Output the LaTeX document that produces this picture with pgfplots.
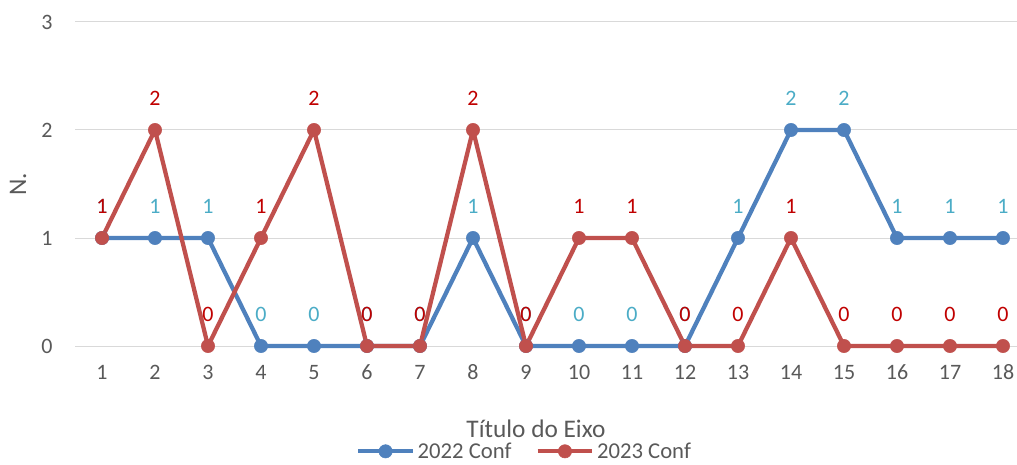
\documentclass[border=0pt]{standalone}
\usepackage{pgfplots}
\pgfplotsset{compat=1.18}
\usepackage{fontspec}
\setmainfont{Carlito}

\definecolor{blueline}{HTML}{4F81BD}
\definecolor{redline}{HTML}{C0504D}
\definecolor{bluelabel}{HTML}{4BACC6}
\definecolor{redlabel}{HTML}{C00000}
\definecolor{gridgray}{HTML}{D9D9D9}
\definecolor{textgray}{HTML}{595959}

\begin{document}
\begin{tikzpicture}
\useasboundingbox (-56.625pt,-88.5pt) rectangle (706.125pt,259.5pt);
\begin{axis}[
at={(0,0)}, anchor=south west,
scale only axis,
width=715.5pt, height=243pt,
xmin=0.5, xmax=18.5,
ymin=0, ymax=3,
xtick={1,...,18},
ytick={0,1,2,3},
ymajorgrids,
grid style={line width=0.75pt, draw=gridgray},
axis line style={draw=none},
major tick length=0pt,
clip=false,
/pgf/number format/assume math mode=true,
tick label style={font=\fontsize{16.5}{19}\selectfont, text=textgray},
xticklabel style={anchor=north, inner sep=0pt, yshift=-14pt},
yticklabel style={anchor=east, inner sep=0pt, xshift=-17pt},
xlabel={Título do Eixo},
xlabel style={at={(axis description cs:0.4827,0)}, anchor=center, yshift=-62pt,
  font=\fontsize{19}{22}\selectfont, text=textgray},
ylabel={N.},
ylabel style={at={(axis description cs:-0.0601,0.5)}, anchor=center,
  font=\fontsize{19}{22}\selectfont, text=textgray},
legend columns=2,
legend cell align=left,
legend style={draw=none, fill=none, at={(axis description cs:0.471,0)}, anchor=center,
  yshift=-79pt, font=\fontsize{17}{20}\selectfont, text=textgray,
  /tikz/every even column/.append style={column sep=16pt}},
legend image code/.code={%
  \draw[#1, mark repeat=2, mark phase=2] plot coordinates {(0pt,0pt) (20.5pt,0pt) (41pt,0pt)};},
every node near coord/.append style={anchor=south, inner sep=0pt, yshift=18pt,
  font=\fontsize{16.5}{19}\selectfont},
]
\addplot [blueline, line width=3.2pt, line join=round, mark=*, mark size=5pt,
  mark options={line width=0.4pt, fill=blueline},
  nodes near coords, every node near coord/.append style={text=bluelabel}]
coordinates {
(1,1) (2,1) (3,1) (4,0) (5,0) (6,0) (7,0) (8,1) (9,0)
(10,0) (11,0) (12,0) (13,1) (14,2) (15,2) (16,1) (17,1) (18,1)
};
\addlegendentry{2022 Conf}
\addplot [redline, line width=3.2pt, line join=round, mark=*, mark size=5pt,
  mark options={line width=0.4pt, fill=redline},
  nodes near coords, every node near coord/.append style={text=redlabel}]
coordinates {
(1,1) (2,2) (3,0) (4,1) (5,2) (6,0) (7,0) (8,2) (9,0)
(10,1) (11,1) (12,0) (13,0) (14,1) (15,0) (16,0) (17,0) (18,0)
};
\addlegendentry{2023 Conf}
\end{axis}
\end{tikzpicture}
\end{document}
